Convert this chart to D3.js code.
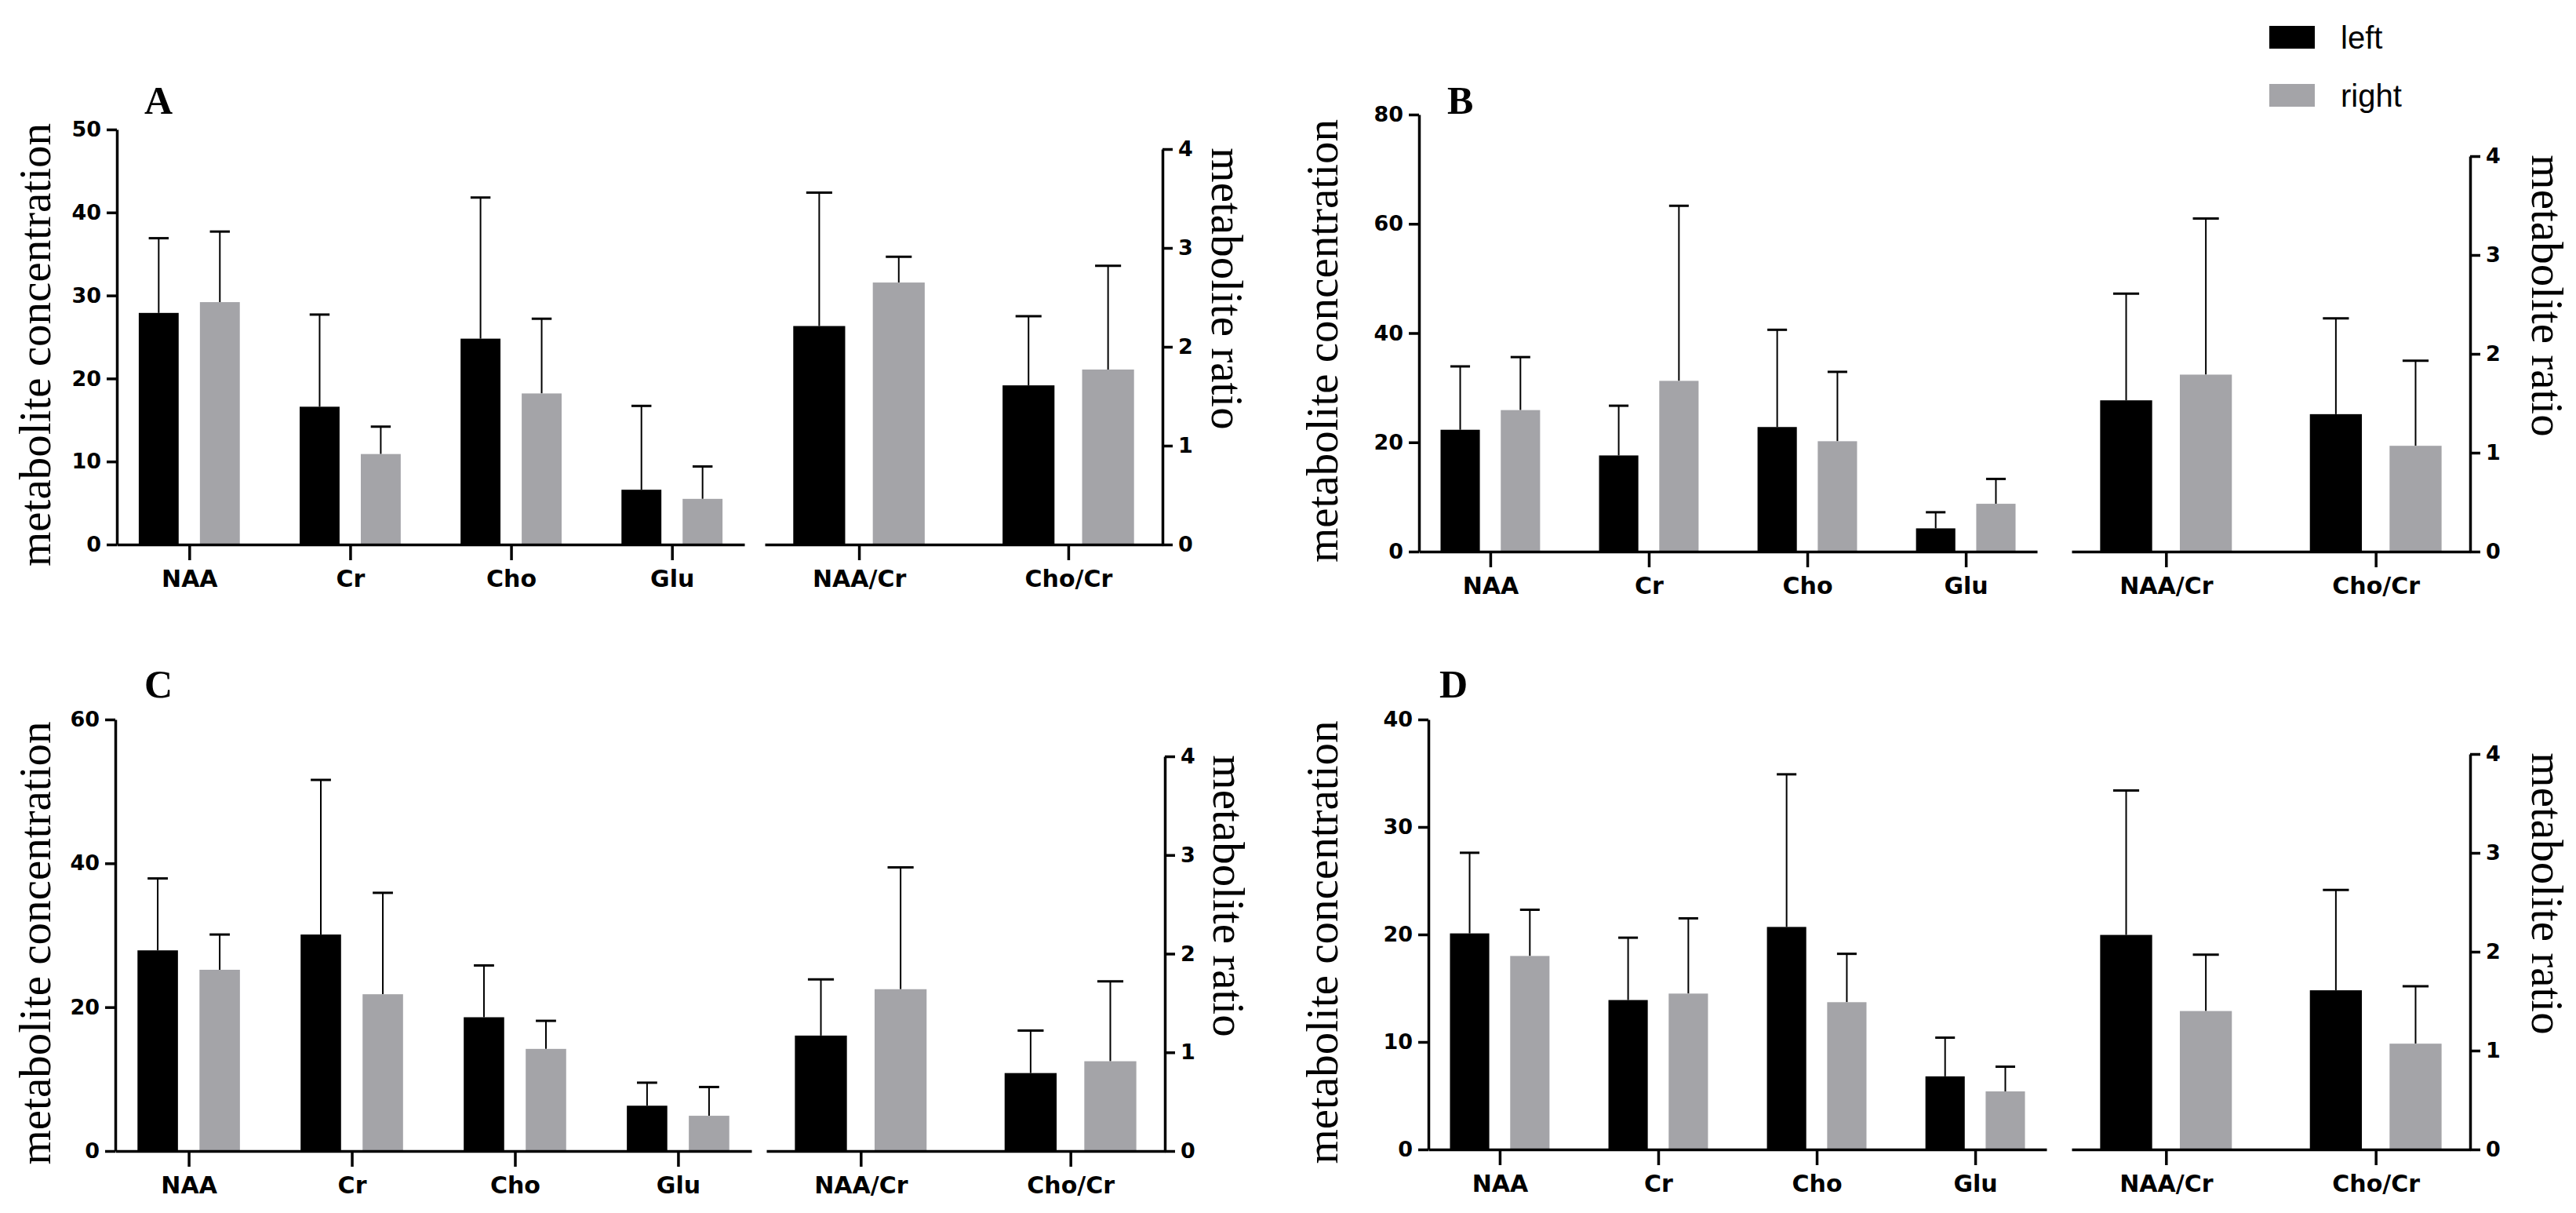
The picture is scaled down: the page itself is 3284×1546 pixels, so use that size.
<!DOCTYPE html>
<html>
<head>
  <meta charset="UTF-8">
  <title>metabolites</title>
  <style>
    body { margin: 0; background: #fff; }
    .tick text { font-family: "DejaVu Sans", "Liberation Sans", Arial, sans-serif; font-weight: bold; }
    .axis-title { font-family: "Palatino Linotype", "Liberation Serif", serif; }
    .panel-label { font-family: "Liberation Serif", serif; font-weight: bold; }
    .legend-label { font-family: "Liberation Sans", Arial, sans-serif; }
  </style>
</head>
<body>
  <div id="chart"></div>
  <script src="https://d3js.org/d3.v7.min.js"></script>
  <script>
    const metabolites = ["NAA", "Cr", "Cho", "Glu"];
    const ratios = ["NAA/Cr", "Cho/Cr"];
    const sides = ["left", "right"];
    const ratioTicks = [0, 1, 2, 3, 4];

    // panel A
    const aConcLeft = [27.9, 16.6, 24.8, 6.6];
    const aConcLeftSD = [9.0, 11.1, 17.0, 10.1];
    const aConcRight = [29.2, 10.9, 18.2, 5.5];
    const aConcRightSD = [8.5, 3.3, 9.0, 3.9];
    const aRatioLeft = [2.21, 1.61];
    const aRatioLeftSD = [1.35, 0.70];
    const aRatioRight = [2.65, 1.77];
    const aRatioRightSD = [0.26, 1.05];
    const aTicks = [0, 10, 20, 30, 40, 50];

    // panel B
    const bConcLeft = [22.3, 17.6, 22.8, 4.25];
    const bConcLeftSD = [11.6, 9.1, 17.8, 2.95];
    const bConcRight = [25.9, 31.25, 20.2, 8.75];
    const bConcRightSD = [9.7, 32.05, 12.7, 4.55];
    const bRatioLeft = [1.53, 1.39];
    const bRatioLeftSD = [1.08, 0.97];
    const bRatioRight = [1.79, 1.07];
    const bRatioRightSD = [1.58, 0.86];
    const bTicks = [0, 20, 40, 60, 80];

    // panel C
    const cConcLeft = [27.9, 30.1, 18.6, 6.3];
    const cConcLeftSD = [10.0, 21.5, 7.2, 3.2];
    const cConcRight = [25.2, 21.8, 14.2, 4.9];
    const cConcRightSD = [4.9, 14.1, 3.9, 4.0];
    const cRatioLeft = [1.17, 0.79];
    const cRatioLeftSD = [0.57, 0.43];
    const cRatioRight = [1.64, 0.91];
    const cRatioRightSD = [1.235, 0.81];
    const cTicks = [0, 20, 40, 60];

    // panel D
    const dConcLeft = [20.1, 13.9, 20.7, 6.8];
    const dConcLeftSD = [7.5, 5.8, 14.2, 3.6];
    const dConcRight = [18.0, 14.5, 13.7, 5.4];
    const dConcRightSD = [4.3, 7.0, 4.5, 2.3];
    const dRatioLeft = [2.17, 1.61];
    const dRatioLeftSD = [1.46, 1.015];
    const dRatioRight = [1.40, 1.07];
    const dRatioRightSD = [0.57, 0.58];
    const dTicks = [0, 10, 20, 30, 40];

    const colors = { left: "#000000", right: "#a4a4a8" };

    const panels = [
      { label: "A", ticks: aTicks,
        conc: [[aConcLeft, aConcLeftSD], [aConcRight, aConcRightSD]],
        ratio: [[aRatioLeft, aRatioLeftSD], [aRatioRight, aRatioRightSD]],
        x0: 149, x1: 949, r0: 975, r1: 1482, yTop: 165, yTopR: 190, yZero: 694,
        labelX: 184, labelY: 145, titleL: 44, titleR: 1564 },
      { label: "B", ticks: bTicks,
        conc: [[bConcLeft, bConcLeftSD], [bConcRight, bConcRightSD]],
        ratio: [[bRatioLeft, bRatioLeftSD], [bRatioRight, bRatioRightSD]],
        x0: 1809, x1: 2597, r0: 2641, r1: 3149, yTop: 146, yTopR: 199, yZero: 703,
        labelX: 1845, labelY: 145, titleL: 1685, titleR: 3247 },
      { label: "C", ticks: cTicks,
        conc: [[cConcLeft, cConcLeftSD], [cConcRight, cConcRightSD]],
        ratio: [[cRatioLeft, cRatioLeftSD], [cRatioRight, cRatioRightSD]],
        x0: 147, x1: 958, r0: 977, r1: 1485, yTop: 917, yTopR: 964, yZero: 1467,
        labelX: 184, labelY: 889, titleL: 44, titleR: 1566 },
      { label: "D", ticks: dTicks,
        conc: [[dConcLeft, dConcLeftSD], [dConcRight, dConcRightSD]],
        ratio: [[dRatioLeft, dRatioLeftSD], [dRatioRight, dRatioRightSD]],
        x0: 1821, x1: 2609, r0: 2641, r1: 3149, yTop: 917, yTopR: 961, yZero: 1465,
        labelX: 1835, labelY: 889, titleL: 1685, titleR: 3247 }
    ];

    const width = 3284;
    const height = 1546;
    const lineW = 3.5;

    const svg = d3.select("#chart")
      .append("svg")
      .attr("width", width)
      .attr("height", height);

    function styleAxis(size) {
      return function (g) {
        g.attr("font-family", null).attr("font-size", null);
        g.selectAll("path, line").attr("stroke", "#000").attr("stroke-width", lineW);
        g.selectAll("text").attr("fill", "#000").attr("font-size", size);
      };
    }

    function drawBars(g, cats, x, y, series) {
      const step = x.step();
      const barW = step * 0.248;
      const off = step * 0.19;
      const capW = barW * 0.5;
      series.forEach(function (s, si) {
        const vals = s[0], sds = s[1];
        const dx = si === 0 ? -off : off;
        const rows = cats.map(function (c, i) { return { c: c, v: vals[i], sd: sds[i] }; });
        const grp = g.append("g");
        // only the upper half of the error bar is drawn
        grp.selectAll("line.whisker")
          .data(rows)
          .enter()
          .append("line")
          .attr("x1", d => x(d.c) + dx)
          .attr("x2", d => x(d.c) + dx)
          .attr("y1", d => y(d.v))
          .attr("y2", d => y(d.v + d.sd))
          .attr("stroke", "#000")
          .attr("stroke-width", 2);
        grp.selectAll("line.cap")
          .data(rows)
          .enter()
          .append("line")
          .attr("x1", d => x(d.c) + dx - capW / 2)
          .attr("x2", d => x(d.c) + dx + capW / 2)
          .attr("y1", d => y(d.v + d.sd))
          .attr("y2", d => y(d.v + d.sd))
          .attr("stroke", "#000")
          .attr("stroke-width", 3);
        grp.selectAll("rect")
          .data(rows)
          .enter()
          .append("rect")
          .attr("x", d => x(d.c) + dx - barW / 2)
          .attr("width", barW)
          .attr("y", d => y(d.v))
          .attr("height", d => y(0) - y(d.v))
          .attr("fill", colors[sides[si]]);
      });
    }

    panels.forEach(function (p) {
      const g = svg.append("g");
      const yMax = p.ticks[p.ticks.length - 1];
      const y = d3.scaleLinear().domain([0, yMax]).range([p.yZero, p.yTop]);
      const yR = d3.scaleLinear().domain([0, 4]).range([p.yZero, p.yTopR]);
      const x = d3.scalePoint().domain(metabolites).range([p.x0, p.x1]).padding(0.45);
      const xR = d3.scalePoint().domain(ratios).range([p.r0, p.r1]).padding(0.45);

      drawBars(g, metabolites, x, y, p.conc);
      drawBars(g, ratios, xR, yR, p.ratio);

      g.append("g")
        .attr("transform", "translate(" + p.x0 + ",0)")
        .call(d3.axisLeft(y).tickValues(p.ticks).tickFormat(d3.format("d"))
          .tickSizeInner(13).tickSizeOuter(0).tickPadding(7))
        .call(styleAxis(27));

      g.append("g")
        .attr("transform", "translate(" + p.r1 + ",0)")
        .call(d3.axisRight(yR).tickValues(ratioTicks).tickFormat(d3.format("d"))
          .tickSizeInner(13).tickSizeOuter(0).tickPadding(7))
        .call(styleAxis(27));

      g.append("g")
        .attr("transform", "translate(0," + p.yZero + ")")
        .call(d3.axisBottom(x).tickSizeInner(20).tickSizeOuter(0).tickPadding(13))
        .call(styleAxis(30));

      g.append("g")
        .attr("transform", "translate(0," + p.yZero + ")")
        .call(d3.axisBottom(xR).tickSizeInner(20).tickSizeOuter(0).tickPadding(13))
        .call(styleAxis(30));

      g.append("text")
        .attr("class", "panel-label")
        .attr("x", p.labelX)
        .attr("y", p.labelY)
        .attr("font-size", 50)
        .text(p.label);

      g.append("text")
        .attr("class", "axis-title")
        .attr("transform", "translate(" + p.titleL + "," + ((p.yTop + p.yZero) / 2 + 10) + ") rotate(-90)")
        .attr("text-anchor", "middle")
        .attr("dominant-baseline", "central")
        .attr("font-size", 57)
        .text("metabolite concentration");

      g.append("text")
        .attr("class", "axis-title")
        .attr("transform", "translate(" + p.titleR + "," + (p.yTopR + 178) + ") rotate(90)")
        .attr("text-anchor", "middle")
        .attr("dominant-baseline", "central")
        .attr("font-size", 57)
        .text("metabolite ratio");
    });

    // legend
    const legend = svg.append("g").attr("transform", "translate(2893,33)");
    legend.selectAll("rect")
      .data(sides)
      .enter()
      .append("rect")
      .attr("x", 0)
      .attr("y", (d, i) => i * 74)
      .attr("width", 58)
      .attr("height", 29)
      .attr("fill", d => colors[d]);
    legend.selectAll("text")
      .data(sides)
      .enter()
      .append("text")
      .attr("class", "legend-label")
      .attr("x", 91)
      .attr("y", (d, i) => i * 74 + 29)
      .attr("font-size", 40)
      .text(d => d);
  </script>
</body>
</html>
